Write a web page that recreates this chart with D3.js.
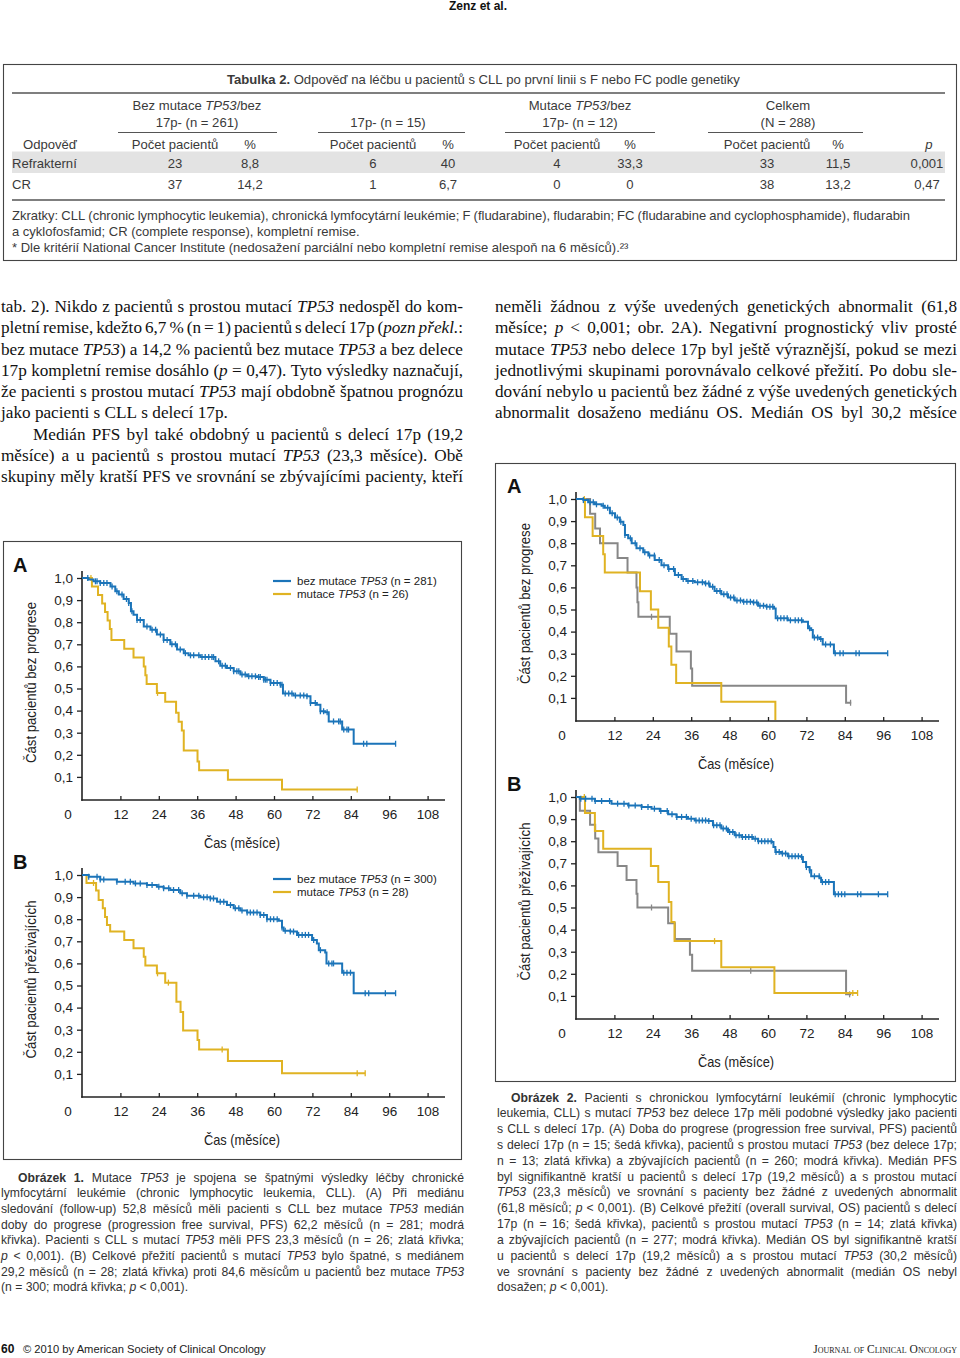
<!DOCTYPE html>
<html><head><meta charset="utf-8">
<script src="https://cdn.jsdelivr.net/npm/d3@7"></script>
<style>html,body{margin:0;padding:0;background:#fff}svg{display:block}</style>
</head><body>
<svg id="page" width="960" height="1358"></svg>
<script>
// ---------------- DATA ----------------
// Table 2
const tableTitle = '^Tabulka 2.^ Odpověď na léčbu u pacientů s CLL po první linii s F nebo FC podle genetiky';
const tableGroupLine1 = ['Bez mutace _TP53_/bez', '', 'Mutace _TP53_/bez', 'Celkem'];
const tableGroupLine2 = ['17p- (n = 261)', '17p- (n = 15)', '17p- (n = 12)', '(N = 288)'];
const tableRowLabels = ['Refrakterní', 'CR'];
const tableCounts = [[23, 6, 4, 33], [37, 1, 0, 38]];
const tablePercents = [['8,8', '40', '33,3', '11,5'], ['14,2', '6,7', '0', '13,2']];
const tablePValues = ['0,001', '0,47'];
const tableNotes = [
  'Zkratky: CLL (chronic lymphocytic leukemia), chronická lymfocytární leukémie; F (fludarabine), fludarabin; FC (fludarabine and cyclophosphamide), fludarabin',
  'a cyklofosfamid; CR (complete response), kompletní remise.',
  '* Dle kritérií National Cancer Institute (nedosažení parciální nebo kompletní remise alespoň na 6 měsíců).²³'
];

// Body text
const leftColumnLines = [
  'tab. 2). Nikdo z pacientů s prostou mutací _TP53_ nedospěl do kom-',
  'pletní remise, kdežto 6,7 % (n = 1) pacientů s delecí 17p (_pozn překl._:',
  'bez mutace _TP53_) a 14,2 % pacientů bez mutace _TP53_ a bez delece',
  '17p kompletní remise dosáhlo (_p_ = 0,47). Tyto výsledky naznačují,',
  'že pacienti s prostou mutací _TP53_ mají obdobně špatnou prognózu',
  'jako pacienti s CLL s delecí 17p.',
  'Medián PFS byl také obdobný u pacientů s delecí 17p (19,2',
  'měsíce) a u pacientů s prostou mutací _TP53_ (23,3 měsíce). Obě',
  'skupiny měly kratší PFS ve srovnání se zbývajícími pacienty, kteří'
];
const rightColumnLines = [
  'neměli žádnou z výše uvedených genetických abnormalit (61,8',
  'měsíce; _p_ < 0,001; obr. 2A). Negativní prognostický vliv prosté',
  'mutace _TP53_ nebo delece 17p byl ještě výraznější, pokud se mezi',
  'jednotlivými skupinami porovnávalo celkové přežití. Po dobu sle-',
  'dování nebylo u pacientů bez žádné z výše uvedených genetických',
  'abnormalit dosaženo mediánu OS. Medián OS byl 30,2 měsíce'
];
const caption1Lines = [
  '^Obrázek 1.^ Mutace _TP53_ je spojena se špatnými výsledky léčby chronické',
  'lymfocytární leukémie (chronic lymphocytic leukemia, CLL). (A) Při mediánu',
  'sledování (follow-up) 52,8 měsíců měli pacienti s CLL bez mutace _TP53_ medián',
  'doby do progrese (progression free survival, PFS) 62,2 měsíců (n = 281; modrá',
  'křivka). Pacienti s CLL s mutací _TP53_ měli PFS 23,3 měsíců (n = 26; zlatá křivka;',
  '_p_ < 0,001). (B) Celkové přežití pacientů s mutací _TP53_ bylo špatné, s mediánem',
  '29,2 měsíců (n = 28; zlatá křivka) proti 84,6 měsícům u pacientů bez mutace _TP53_',
  '(n = 300; modrá křivka; _p_ < 0,001).'
];
const caption2Lines = [
  '^Obrázek 2.^ Pacienti s chronickou lymfocytární leukémií (chronic lymphocytic',
  'leukemia, CLL) s mutací _TP53_ bez delece 17p měli podobné výsledky jako pacienti',
  's CLL s delecí 17p. (A) Doba do progrese (progression free survival, PFS) pacientů',
  's delecí 17p (n = 15; šedá křivka), pacientů s prostou mutací _TP53_ (bez delece 17p;',
  'n = 13; zlatá křivka) a zbývajících pacientů (n = 260; modrá křivka). Medián PFS',
  'byl signifikantně kratší u pacientů s delecí 17p (19,2 měsíců) a s prostou mutací',
  '_TP53_ (23,3 měsíců) ve srovnání s pacienty bez žádné z uvedených abnormalit',
  '(61,8 měsíců; _p_ < 0,001). (B) Celkové přežití (overall survival, OS) pacientů s delecí',
  '17p (n = 16; šedá křivka), pacientů s prostou mutací _TP53_ (n = 14; zlatá křivka)',
  'a zbývajících pacientů (n = 277; modrá křivka). Medián OS byl signifikantně kratší',
  'u pacientů s delecí 17p (19,2 měsíců) a s prostou mutací _TP53_ (30,2 měsíců)',
  've srovnání s pacienty bez žádné z uvedených abnormalit (medián OS nebyl',
  'dosažen; _p_ < 0,001).'
];

// Axis ticks
const monthTicks = [12, 24, 36, 48, 60, 72, 84, 96, 108];
const survTicks = [0.1, 0.2, 0.3, 0.4, 0.5, 0.6, 0.7, 0.8, 0.9, 1.0];

// Figure 1A – PFS (months, survival)
const f1aBlueSteps = [[0,1],[2,0.993],[3.6,0.985],[5.7,0.977],[8.9,0.962],[10.4,0.94],[11.5,0.925],[13,0.905],[14.6,0.887],[15.3,0.85],[16.1,0.834],[17.2,0.81],[19.3,0.78],[21.4,0.766],[23.4,0.744],[25.5,0.72],[27.6,0.70],[29.7,0.676],[31.8,0.66],[33.3,0.65],[37,0.642],[41.7,0.623],[43.2,0.603],[45.3,0.593],[47.4,0.578],[49.5,0.563],[51.6,0.555],[54.7,0.552],[56.8,0.54],[58.9,0.525],[62,0.517],[62.8,0.477],[66.1,0.468],[70.3,0.465],[71.4,0.434],[73.4,0.427],[74.5,0.397],[76,0.392],[77.1,0.351],[81.3,0.314],[84.9,0.25]];
const f1aBlueEnd = 98;
const f1aBlueCens = [1.8,4.2,4.7,5.7,6.8,7.8,9.4,10.9,12.5,13.9,14.6,15.6,17.2,18.2,20.3,21.9,23,24.5,25.5,26.6,28.1,29.2,30.7,32.3,33.9,34.9,36.5,37.5,38.5,39.6,40.6,41.1,42.7,43.8,44.8,46.4,47.4,48.4,49,50,51,52.1,53.1,54.2,55.2,55.7,56.8,57.3,57.8,58.9,59.9,61,62,62.5,63.5,64.6,65.6,66.7,68.2,69.3,70.3,71.4,72.9,74.5,75.5,76.6,78.6,80.2,80.7,81.8,82.8,83.3,88,89,98];
const f1aGoldSteps = [[0,1],[3.1,0.962],[5,0.923],[6.3,0.885],[7.2,0.846],[8,0.808],[8.7,0.769],[9.2,0.72],[13.2,0.68],[16.1,0.64],[19.3,0.60],[19.8,0.56],[20.2,0.52],[23.4,0.48],[26,0.44],[29.4,0.39],[30.2,0.35],[31.2,0.31],[31.8,0.22],[36.1,0.17],[36.6,0.13],[45.6,0.087],[62.5,0.043]];
const f1aGoldEnd = 86;
const f1aGoldCens = [2.8, 23.6, 86];

// Figure 1B – OS
const f1bBlueSteps = [[0,1],[2.1,0.992],[5.7,0.98],[10.9,0.97],[16.1,0.962],[20.3,0.955],[23.4,0.947],[25.5,0.94],[27.6,0.932],[30.7,0.917],[32.8,0.906],[37,0.899],[40.1,0.894],[42.2,0.879],[45.3,0.864],[47.4,0.849],[49.5,0.839],[51.6,0.83],[55.7,0.819],[57.8,0.80],[61.5,0.793],[62.5,0.763],[63,0.748],[65.1,0.744],[67.2,0.729],[71.9,0.706],[73.4,0.69],[74,0.66],[76,0.649],[76.4,0.60],[81.3,0.558],[84.9,0.465]];
const f1bBlueEnd = 98;
const f1bBlueCens = [2.1,4.7,5.7,6.8,10.9,13.5,15.1,16.7,18.2,20.3,21.9,24,25.5,27.1,28.6,30.2,31.3,32.8,34.9,36.5,38,39.1,40.1,41.1,43.2,44.3,46.4,47.9,49,50,51.6,52.6,53.6,54.7,55.7,56.8,57.8,58.9,59.9,61,62.5,63.5,65.1,66.1,67.7,68.8,69.8,70.8,72.4,74.5,77.1,78.1,78.6,81.8,82.8,83.9,88.5,89.6,94.8,98];
const f1bGoldSteps = [[0,1],[1.4,0.964],[4.4,0.93],[5.2,0.887],[6.5,0.85],[7.2,0.81],[7.8,0.774],[8.8,0.744],[13.2,0.706],[16.1,0.668],[19.3,0.63],[19.8,0.59],[23.4,0.555],[26,0.513],[29.5,0.427],[30.8,0.38],[31.6,0.296],[36.1,0.253],[36.6,0.21],[45.6,0.158],[62.5,0.103]];
const f1bGoldEnd = 88.5;
const f1bGoldCens = [3.6, 23.6, 27, 43.8, 86, 88.5];

// Figure 2A – PFS by genetics
const f2aBlueSteps = [[0,1],[2.3,0.995],[3.8,0.985],[5.9,0.976],[8,0.97],[9,0.96],[10.6,0.935],[12.2,0.916],[13.7,0.897],[14.8,0.882],[15.3,0.837],[16.3,0.822],[17.4,0.80],[18.9,0.777],[21,0.759],[22.6,0.744],[24.6,0.724],[26.7,0.70],[28.8,0.683],[30.9,0.656],[33,0.638],[34.5,0.629],[37.1,0.623],[40.2,0.618],[41.8,0.603],[43.3,0.584],[45.4,0.569],[47.5,0.554],[49.6,0.541],[52.2,0.535],[55.3,0.532],[56.9,0.517],[59.5,0.513],[61.9,0.505],[62.4,0.46],[66.2,0.451],[70.9,0.445],[72.5,0.415],[73.5,0.407],[74,0.373],[76.1,0.367],[77.1,0.342],[80.6,0.302]];
const f2aBlueEnd = 97.4;
const f2aBlueCens = [2.3,4.4,5.4,6.4,8.5,9.9,11.3,12.9,14,15.3,17,18.5,20,21.5,23,24.5,26,27.5,29,30.5,32,33.5,35,36.5,38,39.5,40.5,41.5,42.7,44,45,46.2,47.2,48.3,49.3,50.3,51.4,52.4,53.4,54.5,55.5,56.5,57.5,58.6,59.6,60.6,61.5,63,64,65,66,67,68.5,69.5,70.5,73,74.5,75.5,76.5,78,79.5,81,82.5,83.5,87.5,88.5,97.4];
const f2aGraySteps = [[0,1],[4.4,0.933],[6,0.867],[7.5,0.80],[13,0.733],[16.1,0.667],[18.9,0.60],[19.2,0.533],[19.5,0.467],[29.3,0.39],[31.4,0.31],[35.9,0.233],[36.3,0.155],[84.4,0.078]];
const f2aGrayEnd = 86;
const f2aGrayCens = [23.6, 85.8];
const f2aGoldSteps = [[0,1],[2.8,0.917],[5.2,0.833],[8.5,0.75],[9,0.667],[20,0.583],[23.4,0.50],[25.7,0.417],[29,0.333],[29.8,0.25],[31.3,0.167],[45.4,0.083],[62.3,0]];
const f2aGoldEnd = 62.3;
const f2aGoldCens = [2.6];

// Figure 2B – OS by genetics
const f2bBlueSteps = [[0,1],[1.2,0.992],[5.9,0.982],[11.1,0.97],[16.3,0.962],[20.5,0.955],[23.6,0.947],[26.2,0.937],[28.8,0.922],[31.4,0.91],[35,0.902],[37.1,0.894],[41.3,0.891],[42.8,0.872],[45.4,0.857],[47.5,0.842],[49.6,0.827],[51.7,0.819],[55.3,0.811],[56.9,0.80],[61.2,0.796],[61.7,0.774],[62.3,0.751],[64.1,0.744],[66.2,0.732],[70.4,0.729],[70.9,0.706],[71.9,0.683],[73,0.668],[73.5,0.641],[76.1,0.635],[76.6,0.615],[80.6,0.56]];
const f2bBlueEnd = 97.4;
const f2bBlueCens = [1.5,3,5,6,8,10.5,13,15,16.5,18.5,20.5,22.5,24.5,26.5,28.5,30,31.5,33,34.5,36,37.5,38.5,39.5,40.5,41.5,43,44,45,46,47,48,49,50,51,52,53,54,55,56,57,58,59,60,61,62.5,63.5,64.5,65.5,66.5,67.5,68.5,69.5,70.5,72,73,74.5,76,77,78,79,81,82,83,84,88,89,94.5,97.4];
const f2bGraySteps = [[0,1],[1.2,0.9375],[4.4,0.875],[6,0.8125],[7,0.75],[13,0.6875],[15.8,0.625],[18.9,0.5625],[19.2,0.5],[28.8,0.429],[30.9,0.357],[35.6,0.286],[36.3,0.214],[84.4,0.107]];
const f2bGrayEnd = 86;
const f2bGrayCens = [23.6, 54.6, 85.5];
const f2bGoldSteps = [[0,1],[2.8,0.928],[5.9,0.846],[8.5,0.766],[23.4,0.688],[25.7,0.615],[29,0.525],[29.8,0.434],[30.8,0.348],[45.4,0.23],[62,0.113]];
const f2bGoldEnd = 88;
const f2bGoldCens = [2.6, 43.3, 86.5, 88];

const legend1A = ['bez mutace _TP53_ (n = 281)', 'mutace _TP53_ (n = 26)'];
const legend1B = ['bez mutace _TP53_ (n = 300)', 'mutace _TP53_ (n = 28)'];

// ---------------- DRAWING ----------------
const BLUE = '#1b74b9', GOLD = '#e0b323', GRAY = '#878787';
const SANS = "'Liberation Sans', Arial, Helvetica, sans-serif";
const SERIF = "'Liberation Serif', 'Times New Roman', serif";
const svg = d3.select('#page');

function parseRich(str) {
  let it = false, bd = false;
  const words = [];
  str.split(' ').forEach(w => {
    if (w === '') return;
    const segs = []; let buf = '';
    for (const ch of w) {
      if (ch === '_' || ch === '^') {
        if (buf) segs.push({t: buf, i: it, b: bd});
        buf = '';
        if (ch === '_') it = !it; else bd = !bd;
      } else buf += ch;
    }
    if (buf) segs.push({t: buf, i: it, b: bd});
    words.push(segs);
  });
  return words;
}
const spaceCache = {};
function spaceWidth(family, size) {
  const k = family + size;
  if (spaceCache[k] != null) return spaceCache[k];
  const t = svg.append('text').attr('font-family', family).attr('font-size', size).text('n n');
  const a = t.node().getComputedTextLength();
  t.text('nn');
  const b = t.node().getComputedTextLength();
  t.remove();
  return (spaceCache[k] = a - b);
}
function richText(parent, x, y, width, str, o) {
  const words = parseRich(str);
  const g = parent.append('g').attr('font-family', o.family).attr('font-size', o.size)
    .attr('fill', o.fill || '#111');
  if (o.weight) g.attr('font-weight', o.weight);
  const nodes = words.map(segs => {
    const t = g.append('text').attr('y', y);
    segs.forEach(s => {
      const ts = t.append('tspan').text(s.t);
      if (s.i) ts.attr('font-style', 'italic');
      if (s.b) ts.attr('font-weight', 'bold');
    });
    return t;
  });
  const widths = nodes.map(n => n.node().getComputedTextLength());
  const sum = d3.sum(widths);
  const sp = spaceWidth(o.family, o.size);
  let gap = sp;
  if (o.align === 'justify' && nodes.length > 1) gap = (width - sum) / (nodes.length - 1);
  let cx = x;
  const natural = sum + sp * (nodes.length - 1);
  if (o.align === 'middle') cx = x - natural / 2;
  if (o.align === 'end') cx = x - natural;
  nodes.forEach((n, i) => { n.attr('x', cx); cx += widths[i] + gap; });
  return g;
}

// Page header
svg.append('text').attr('x', 478).attr('y', 10).attr('text-anchor', 'middle')
  .attr('font-family', SANS).attr('font-size', 12).attr('font-weight', 'bold').attr('fill', '#111')
  .text('Zenz et al.');

// ---------- Table ----------
const TCOL = '#3a3a3a';
const TS = 13.1;
const T = svg.append('g');
T.append('rect').attr('x', 3.5).attr('y', 64.5).attr('width', 953).attr('height', 196)
  .attr('fill', 'none').attr('stroke', '#444').attr('stroke-width', 1.1);
T.append('rect').attr('x', 12).attr('y', 151.5).attr('width', 933).attr('height', 21.5).attr('fill', '#e3e3e3');
T.append('line').attr('x1', 12).attr('x2', 945).attr('y1', 93).attr('y2', 93).attr('stroke', '#555').attr('stroke-width', 1.4);
T.append('line').attr('x1', 12).attr('x2', 945).attr('y1', 200).attr('y2', 200).attr('stroke', '#555').attr('stroke-width', 1.4);
const tFont = {family: SANS, size: TS, fill: TCOL};
richText(T, 227, 83.6, 0, tableTitle, {...tFont, align: 'left'});
const groupCenters = [197, 388, 580, 788];
const groupRules = [[118, 277], [318, 465], [505, 655], [708, 863]];
const countX = [175, 373, 557, 767];
const pctX = [250, 448, 630, 838];
const pX = 927;
tableGroupLine1.forEach((s, i) => { if (s) richText(T, groupCenters[i], 109.6, 0, s, {...tFont, align: 'middle'}); });
tableGroupLine2.forEach((s, i) => richText(T, groupCenters[i], 126.6, 0, s, {...tFont, align: 'middle'}));
groupRules.forEach(r => T.append('line').attr('x1', r[0]).attr('x2', r[1]).attr('y1', 132.5).attr('y2', 132.5)
  .attr('stroke', '#555').attr('stroke-width', 1));
const hdrY = 148.6;
T.append('text').attr('x', 23).attr('y', hdrY).attr('font-family', SANS).attr('font-size', TS).attr('fill', TCOL).text('Odpověď');
countX.forEach(x => T.append('text').attr('x', x).attr('y', hdrY).attr('text-anchor', 'middle')
  .attr('font-family', SANS).attr('font-size', TS).attr('fill', TCOL).text('Počet pacientů'));
pctX.forEach(x => T.append('text').attr('x', x).attr('y', hdrY).attr('text-anchor', 'middle')
  .attr('font-family', SANS).attr('font-size', TS).attr('fill', TCOL).text('%'));
T.append('text').attr('x', pX + 2).attr('y', hdrY).attr('text-anchor', 'middle').attr('font-style', 'italic')
  .attr('font-family', SANS).attr('font-size', TS).attr('fill', TCOL).text('p');
const rowY = [167.6, 188.6];
tableRowLabels.forEach((lab, r) => {
  const tt = (x, s, anchor) => T.append('text').attr('x', x).attr('y', rowY[r]).attr('text-anchor', anchor)
    .attr('font-family', SANS).attr('font-size', TS).attr('fill', TCOL).text(s);
  tt(12, lab, 'start');
  tableCounts[r].forEach((v, c) => tt(countX[c], String(v), 'middle'));
  tablePercents[r].forEach((v, c) => tt(pctX[c], v, 'middle'));
  tt(pX, tablePValues[r], 'middle');
});
const noteY = [219.6, 235.8, 252];
richText(T, 12, noteY[0], 898, tableNotes[0], {...tFont, size: 13, align: 'justify'});
richText(T, 12, noteY[1], 0, tableNotes[1], {...tFont, size: 13, align: 'left'});
richText(T, 12, noteY[2], 0, tableNotes[2], {...tFont, size: 13, align: 'left'});

// ---------- Body text ----------
const bodyFont = {family: SERIF, size: 17.2, fill: '#111'};
leftColumnLines.forEach((s, i) => {
  const last = (i === 5);
  const indent = (i === 6) ? 32 : 0;
  richText(svg, 1 + indent, 312 + i * 21.25, 462 - indent, s, {...bodyFont, align: last ? 'left' : 'justify'});
});
rightColumnLines.forEach((s, i) => {
  richText(svg, 495, 312 + i * 21.25, 462, s, {...bodyFont, align: 'justify'});
});

// ---------- Figure boxes ----------
svg.append('rect').attr('x', 3.5).attr('y', 541.5).attr('width', 458).attr('height', 618)
  .attr('fill', 'none').attr('stroke', '#444').attr('stroke-width', 1.1);
svg.append('rect').attr('x', 495.5).attr('y', 463.5).attr('width', 460).attr('height', 618)
  .attr('fill', 'none').attr('stroke', '#444').attr('stroke-width', 1.1);

// ---------- KM panels ----------
function survAt(steps, t) { let s = steps[0][1]; steps.forEach(d => { if (d[0] <= t) s = d[1]; }); return s; }

function drawKM(p) {
  const g = svg.append('g').attr('transform', `translate(${p.x0},${p.y1})`);
  const x = d3.scaleLinear().domain([0, 108]).range([0, 345.6]);
  const y = d3.scaleLinear().domain([0, 1]).range([221, 0]);
  const AX = '#222';
  const ya = g.append('g').call(d3.axisLeft(y).tickValues(survTicks).tickSize(5).tickPadding(4)
    .tickFormat(d => d3.format('.1f')(d).replace('.', ',')));
  ya.select('.domain').remove();
  ya.selectAll('line').attr('stroke', AX).attr('stroke-width', 1.3);
  ya.selectAll('text').attr('font-family', SANS).attr('font-size', 13.5).attr('fill', AX);
  const xa = g.append('g').attr('transform', 'translate(0,222)')
    .call(d3.axisBottom(x).tickValues(monthTicks).tickSize(-4).tickPadding(9));
  xa.select('.domain').remove();
  xa.selectAll('line').attr('stroke', AX).attr('stroke-width', 1.3);
  xa.selectAll('text').attr('font-family', SANS).attr('font-size', 13.5).attr('fill', AX);
  g.append('text').attr('x', -14).attr('y', 222 + 9 + 9.6).attr('text-anchor', 'middle')
    .attr('font-family', SANS).attr('font-size', 13.5).attr('fill', AX).text('0');
  g.append('line').attr('x1', 0).attr('x2', 0).attr('y1', -7).attr('y2', 222.7).attr('stroke', AX).attr('stroke-width', 1.6);
  g.append('line').attr('x1', -0.8).attr('x2', 363).attr('y1', 222).attr('y2', 222).attr('stroke', AX).attr('stroke-width', 1.6);
  g.append('text').attr('x', -69).attr('y', -6).attr('font-family', SANS).attr('font-size', 20)
    .attr('font-weight', 'bold').attr('fill', '#111').text(p.label);
  g.append('text').attr('transform', `translate(-46,${110.5 - 6}) rotate(-90)`).attr('text-anchor', 'middle')
    .attr('font-family', SANS).attr('font-size', 14).attr('fill', AX)
    .attr('textLength', p.ylen).attr('lengthAdjust', 'spacingAndGlyphs').text(p.ylab);
  g.append('text').attr('x', 160).attr('y', 270).attr('text-anchor', 'middle')
    .attr('font-family', SANS).attr('font-size', 15).attr('fill', AX)
    .attr('textLength', 76).attr('lengthAdjust', 'spacingAndGlyphs').text('Čas (měsíce)');
  const line = d3.line().curve(d3.curveStepAfter);
  p.series.forEach(s => {
    const pts = s.steps.map(d => [x(d[0]), y(d[1])]);
    pts.push([x(s.end), y(s.steps[s.steps.length - 1][1])]);
    g.append('path').attr('d', line(pts)).attr('fill', 'none').attr('stroke', s.color)
      .attr('stroke-width', 2).attr('stroke-linejoin', 'miter');
    g.append('g').selectAll('line').data(s.cens).join('line')
      .attr('x1', t => x(t)).attr('x2', t => x(t))
      .attr('y1', t => y(survAt(s.steps, t)) - 3).attr('y2', t => y(survAt(s.steps, t)) + 3)
      .attr('stroke', s.color).attr('stroke-width', 1.3);
  });
  if (p.legend) {
    const cols = [BLUE, GOLD];
    p.legend.forEach((txt, i) => {
      const ly = p.legendDy + i * 13;
      g.append('line').attr('x1', 191).attr('x2', 209).attr('y1', ly).attr('y2', ly)
        .attr('stroke', cols[i]).attr('stroke-width', 2.2);
      richText(g, 215, ly + 4, 0, txt, {family: SANS, size: 11.5, fill: '#222', align: 'left'});
    });
  }
}

drawKM({x0: 82, y1: 578, label: 'A', ylab: 'Část pacientů bez progrese', ylen: 161, legend: legend1A, legendDy: 3,
  series: [
    {steps: f1aGoldSteps, end: f1aGoldEnd, cens: f1aGoldCens, color: GOLD},
    {steps: f1aBlueSteps, end: f1aBlueEnd, cens: f1aBlueCens, color: BLUE}]});
drawKM({x0: 82, y1: 875, label: 'B', ylab: 'Část pacientů přeživajících', ylen: 158, legend: legend1B, legendDy: 4,
  series: [
    {steps: f1bGoldSteps, end: f1bGoldEnd, cens: f1bGoldCens, color: GOLD},
    {steps: f1bBlueSteps, end: f1bBlueEnd, cens: f1bBlueCens, color: BLUE}]});
drawKM({x0: 576, y1: 499, label: 'A', ylab: 'Část pacientů bez progrese', ylen: 161,
  series: [
    {steps: f2aGraySteps, end: f2aGrayEnd, cens: f2aGrayCens, color: GRAY},
    {steps: f2aGoldSteps, end: f2aGoldEnd, cens: f2aGoldCens, color: GOLD},
    {steps: f2aBlueSteps, end: f2aBlueEnd, cens: f2aBlueCens, color: BLUE}]});
drawKM({x0: 576, y1: 797, label: 'B', ylab: 'Část pacientů přeživajících', ylen: 158,
  series: [
    {steps: f2bGraySteps, end: f2bGrayEnd, cens: f2bGrayCens, color: GRAY},
    {steps: f2bGoldSteps, end: f2bGoldEnd, cens: f2bGoldCens, color: GOLD},
    {steps: f2bBlueSteps, end: f2bBlueEnd, cens: f2bBlueCens, color: BLUE}]});

// ---------- Captions ----------
const capFont = {family: SANS, size: 12.2, fill: '#333'};
caption1Lines.forEach((s, i) => {
  const last = i === caption1Lines.length - 1;
  const ind = i === 0 ? 17 : 0;
  richText(svg, 1 + ind, 1181.5 + i * 15.7, 463 - ind, s, {...capFont, align: last ? 'left' : 'justify'});
});
caption2Lines.forEach((s, i) => {
  const last = i === caption2Lines.length - 1;
  const ind = i === 0 ? 14 : 0;
  richText(svg, 497 + ind, 1101.5 + i * 15.83, 460 - ind, s, {...capFont, align: last ? 'left' : 'justify'});
});

// ---------- Footer ----------
svg.append('text').attr('x', 1).attr('y', 1353).attr('font-family', SANS).attr('font-size', 12)
  .attr('font-weight', 'bold').attr('fill', '#111').text('60');
svg.append('text').attr('x', 23).attr('y', 1353).attr('font-family', SANS).attr('font-size', 11.2)
  .attr('fill', '#222').text('© 2010 by American Society of Clinical Oncology');
svg.append('text').attr('x', 957).attr('y', 1353).attr('text-anchor', 'end').attr('font-family', SERIF)
  .attr('font-size', 11.5).attr('fill', '#222').style('font-variant', 'small-caps')
  .text('Journal of Clinical Oncology');
</script>
</body></html>
